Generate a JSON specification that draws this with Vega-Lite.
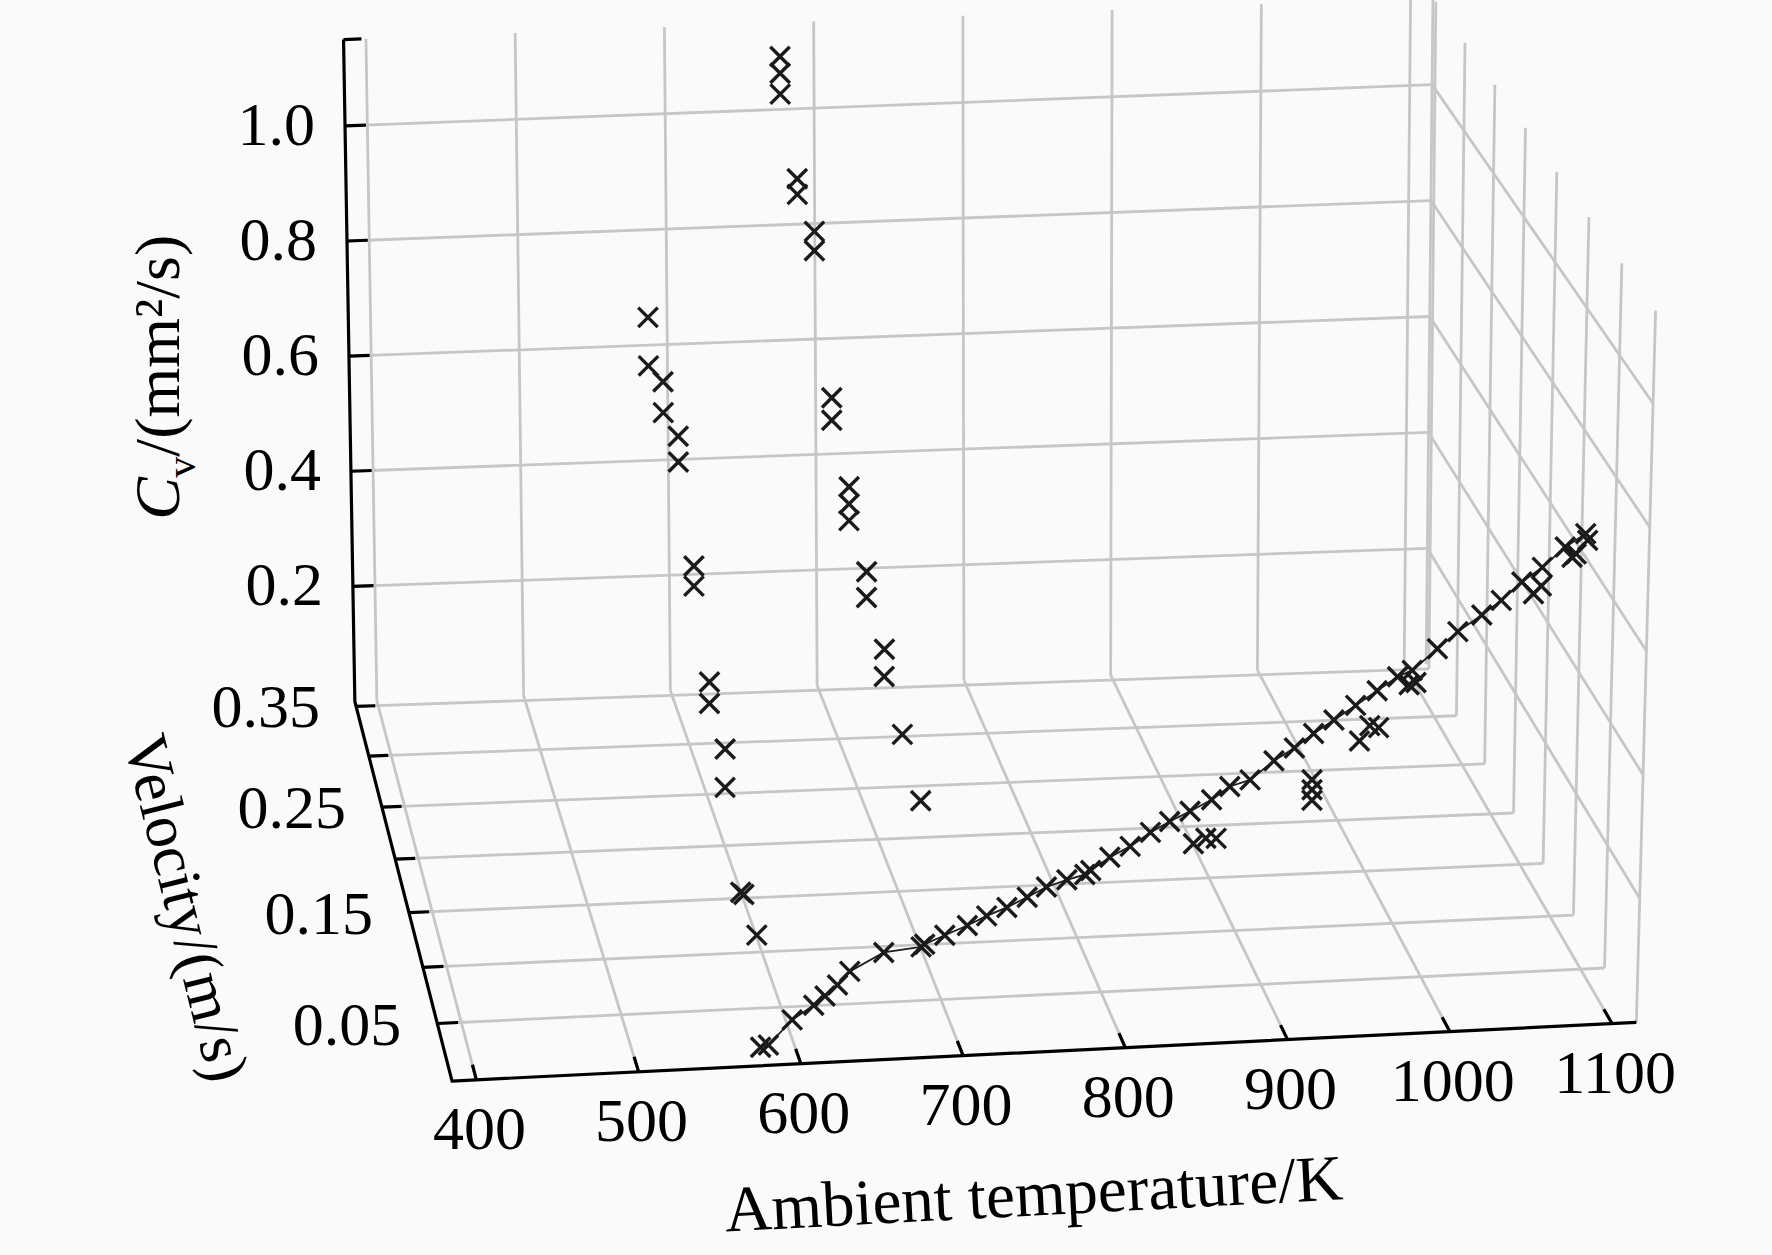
{
  "$schema": "https://vega.github.io/schema/vega-lite/v6.json",
  "width": 1772,
  "height": 1255,
  "autosize": "none",
  "padding": 0,
  "background": "#fafafa",
  "config": {"view": {"stroke": null}},
  "data": {
    "values": [
      {"k":"grid","g":"b400","o":0,"T":400,"v":0.355,"Cv":0},{"k":"grid","g":"b400","o":1,"T":400,"v":0.355,"Cv":1.15},
      {"k":"grid","g":"b500","o":0,"T":500,"v":0.355,"Cv":0},{"k":"grid","g":"b500","o":1,"T":500,"v":0.355,"Cv":1.15},
      {"k":"grid","g":"b600","o":0,"T":600,"v":0.355,"Cv":0},{"k":"grid","g":"b600","o":1,"T":600,"v":0.355,"Cv":1.15},
      {"k":"grid","g":"b700","o":0,"T":700,"v":0.355,"Cv":0},{"k":"grid","g":"b700","o":1,"T":700,"v":0.355,"Cv":1.15},
      {"k":"grid","g":"b800","o":0,"T":800,"v":0.355,"Cv":0},{"k":"grid","g":"b800","o":1,"T":800,"v":0.355,"Cv":1.15},
      {"k":"grid","g":"b900","o":0,"T":900,"v":0.355,"Cv":0},{"k":"grid","g":"b900","o":1,"T":900,"v":0.355,"Cv":1.15},
      {"k":"grid","g":"b1000","o":0,"T":1000,"v":0.355,"Cv":0},{"k":"grid","g":"b1000","o":1,"T":1000,"v":0.355,"Cv":1.15},
      {"k":"grid","g":"b1100","o":0,"T":1100,"v":0.355,"Cv":0},{"k":"grid","g":"b1100","o":1,"T":1100,"v":0.355,"Cv":1.15},
      {"k":"grid","g":"bh2","o":0,"T":385,"v":0.355,"Cv":0.2},{"k":"grid","g":"bh2","o":1,"T":1115,"v":0.355,"Cv":0.2},
      {"k":"grid","g":"bh4","o":0,"T":385,"v":0.355,"Cv":0.4},{"k":"grid","g":"bh4","o":1,"T":1115,"v":0.355,"Cv":0.4},
      {"k":"grid","g":"bh6","o":0,"T":385,"v":0.355,"Cv":0.6},{"k":"grid","g":"bh6","o":1,"T":1115,"v":0.355,"Cv":0.6},
      {"k":"grid","g":"bh8","o":0,"T":385,"v":0.355,"Cv":0.8},{"k":"grid","g":"bh8","o":1,"T":1115,"v":0.355,"Cv":0.8},
      {"k":"grid","g":"bh10","o":0,"T":385,"v":0.355,"Cv":1.0},{"k":"grid","g":"bh10","o":1,"T":1115,"v":0.355,"Cv":1.0},
      {"k":"grid","g":"f400","o":0,"T":400,"v":0,"Cv":0},{"k":"grid","g":"f400","o":1,"T":400,"v":0.355,"Cv":0},
      {"k":"grid","g":"f500","o":0,"T":500,"v":0,"Cv":0},{"k":"grid","g":"f500","o":1,"T":500,"v":0.355,"Cv":0},
      {"k":"grid","g":"f600","o":0,"T":600,"v":0,"Cv":0},{"k":"grid","g":"f600","o":1,"T":600,"v":0.355,"Cv":0},
      {"k":"grid","g":"f700","o":0,"T":700,"v":0,"Cv":0},{"k":"grid","g":"f700","o":1,"T":700,"v":0.355,"Cv":0},
      {"k":"grid","g":"f800","o":0,"T":800,"v":0,"Cv":0},{"k":"grid","g":"f800","o":1,"T":800,"v":0.355,"Cv":0},
      {"k":"grid","g":"f900","o":0,"T":900,"v":0,"Cv":0},{"k":"grid","g":"f900","o":1,"T":900,"v":0.355,"Cv":0},
      {"k":"grid","g":"f1000","o":0,"T":1000,"v":0,"Cv":0},{"k":"grid","g":"f1000","o":1,"T":1000,"v":0.355,"Cv":0},
      {"k":"grid","g":"f1100","o":0,"T":1100,"v":0,"Cv":0},{"k":"grid","g":"f1100","o":1,"T":1100,"v":0.355,"Cv":0},
      {"k":"grid","g":"fv05","o":0,"T":385,"v":0.05,"Cv":0},{"k":"grid","g":"fv05","o":1,"T":1115,"v":0.05,"Cv":0},
      {"k":"grid","g":"fv10","o":0,"T":385,"v":0.10,"Cv":0},{"k":"grid","g":"fv10","o":1,"T":1115,"v":0.10,"Cv":0},
      {"k":"grid","g":"fv15","o":0,"T":385,"v":0.15,"Cv":0},{"k":"grid","g":"fv15","o":1,"T":1115,"v":0.15,"Cv":0},
      {"k":"grid","g":"fv20","o":0,"T":385,"v":0.20,"Cv":0},{"k":"grid","g":"fv20","o":1,"T":1115,"v":0.20,"Cv":0},
      {"k":"grid","g":"fv25","o":0,"T":385,"v":0.25,"Cv":0},{"k":"grid","g":"fv25","o":1,"T":1115,"v":0.25,"Cv":0},
      {"k":"grid","g":"fv30","o":0,"T":385,"v":0.30,"Cv":0},{"k":"grid","g":"fv30","o":1,"T":1115,"v":0.30,"Cv":0},
      {"k":"grid","g":"fv35","o":0,"T":385,"v":0.35,"Cv":0},{"k":"grid","g":"fv35","o":1,"T":1115,"v":0.35,"Cv":0},
      {"k":"grid","g":"rv00","o":0,"T":1115,"v":0,"Cv":0},{"k":"grid","g":"rv00","o":1,"T":1115,"v":0,"Cv":1.15},
      {"k":"grid","g":"rv05","o":0,"T":1115,"v":0.05,"Cv":0},{"k":"grid","g":"rv05","o":1,"T":1115,"v":0.05,"Cv":1.15},
      {"k":"grid","g":"rv10","o":0,"T":1115,"v":0.10,"Cv":0},{"k":"grid","g":"rv10","o":1,"T":1115,"v":0.10,"Cv":1.15},
      {"k":"grid","g":"rv15","o":0,"T":1115,"v":0.15,"Cv":0},{"k":"grid","g":"rv15","o":1,"T":1115,"v":0.15,"Cv":1.15},
      {"k":"grid","g":"rv20","o":0,"T":1115,"v":0.20,"Cv":0},{"k":"grid","g":"rv20","o":1,"T":1115,"v":0.20,"Cv":1.15},
      {"k":"grid","g":"rv25","o":0,"T":1115,"v":0.25,"Cv":0},{"k":"grid","g":"rv25","o":1,"T":1115,"v":0.25,"Cv":1.15},
      {"k":"grid","g":"rv30","o":0,"T":1115,"v":0.30,"Cv":0},{"k":"grid","g":"rv30","o":1,"T":1115,"v":0.30,"Cv":1.15},
      {"k":"grid","g":"rv35","o":0,"T":1115,"v":0.35,"Cv":0},{"k":"grid","g":"rv35","o":1,"T":1115,"v":0.35,"Cv":1.15},
      {"k":"grid","g":"rvb","o":0,"T":1115,"v":0.355,"Cv":0},{"k":"grid","g":"rvb","o":1,"T":1115,"v":0.355,"Cv":1.15},
      {"k":"grid","g":"rc2","o":0,"T":1115,"v":0,"Cv":0.2},{"k":"grid","g":"rc2","o":1,"T":1115,"v":0.355,"Cv":0.2},
      {"k":"grid","g":"rc4","o":0,"T":1115,"v":0,"Cv":0.4},{"k":"grid","g":"rc4","o":1,"T":1115,"v":0.355,"Cv":0.4},
      {"k":"grid","g":"rc6","o":0,"T":1115,"v":0,"Cv":0.6},{"k":"grid","g":"rc6","o":1,"T":1115,"v":0.355,"Cv":0.6},
      {"k":"grid","g":"rc8","o":0,"T":1115,"v":0,"Cv":0.8},{"k":"grid","g":"rc8","o":1,"T":1115,"v":0.355,"Cv":0.8},
      {"k":"grid","g":"rc10","o":0,"T":1115,"v":0,"Cv":1.0},{"k":"grid","g":"rc10","o":1,"T":1115,"v":0.355,"Cv":1.0},

      {"k":"axis","g":"ax","o":0,"T":385,"v":0.355,"Cv":1.15},
      {"k":"axis","g":"ax","o":1,"T":385,"v":0.355,"Cv":0},
      {"k":"axis","g":"ax","o":2,"T":385,"v":0,"Cv":0},
      {"k":"axis","g":"ax","o":3,"T":1115,"v":0,"Cv":0},

      {"k":"tick","g":"t400","o":0,"T":400,"v":0,"Cv":0},{"k":"tick","g":"t400","o":1,"T":400,"v":0.013,"Cv":0},
      {"k":"tick","g":"t500","o":0,"T":500,"v":0,"Cv":0},{"k":"tick","g":"t500","o":1,"T":500,"v":0.013,"Cv":0},
      {"k":"tick","g":"t600","o":0,"T":600,"v":0,"Cv":0},{"k":"tick","g":"t600","o":1,"T":600,"v":0.013,"Cv":0},
      {"k":"tick","g":"t700","o":0,"T":700,"v":0,"Cv":0},{"k":"tick","g":"t700","o":1,"T":700,"v":0.013,"Cv":0},
      {"k":"tick","g":"t800","o":0,"T":800,"v":0,"Cv":0},{"k":"tick","g":"t800","o":1,"T":800,"v":0.013,"Cv":0},
      {"k":"tick","g":"t900","o":0,"T":900,"v":0,"Cv":0},{"k":"tick","g":"t900","o":1,"T":900,"v":0.013,"Cv":0},
      {"k":"tick","g":"t1000","o":0,"T":1000,"v":0,"Cv":0},{"k":"tick","g":"t1000","o":1,"T":1000,"v":0.013,"Cv":0},
      {"k":"tick","g":"t1100","o":0,"T":1100,"v":0,"Cv":0},{"k":"tick","g":"t1100","o":1,"T":1100,"v":0.013,"Cv":0},
      {"k":"tick","g":"tv05","o":0,"T":385,"v":0.05,"Cv":0},{"k":"tick","g":"tv05","o":1,"T":398,"v":0.05,"Cv":0},
      {"k":"tick","g":"tv10","o":0,"T":385,"v":0.10,"Cv":0},{"k":"tick","g":"tv10","o":1,"T":398,"v":0.10,"Cv":0},
      {"k":"tick","g":"tv15","o":0,"T":385,"v":0.15,"Cv":0},{"k":"tick","g":"tv15","o":1,"T":398,"v":0.15,"Cv":0},
      {"k":"tick","g":"tv20","o":0,"T":385,"v":0.20,"Cv":0},{"k":"tick","g":"tv20","o":1,"T":398,"v":0.20,"Cv":0},
      {"k":"tick","g":"tv25","o":0,"T":385,"v":0.25,"Cv":0},{"k":"tick","g":"tv25","o":1,"T":398,"v":0.25,"Cv":0},
      {"k":"tick","g":"tv30","o":0,"T":385,"v":0.30,"Cv":0},{"k":"tick","g":"tv30","o":1,"T":398,"v":0.30,"Cv":0},
      {"k":"tick","g":"tv35","o":0,"T":385,"v":0.35,"Cv":0},{"k":"tick","g":"tv35","o":1,"T":398,"v":0.35,"Cv":0},
      {"k":"tick","g":"tc2","o":0,"T":385,"v":0.355,"Cv":0.2},{"k":"tick","g":"tc2","o":1,"T":399,"v":0.355,"Cv":0.2},
      {"k":"tick","g":"tc4","o":0,"T":385,"v":0.355,"Cv":0.4},{"k":"tick","g":"tc4","o":1,"T":399,"v":0.355,"Cv":0.4},
      {"k":"tick","g":"tc6","o":0,"T":385,"v":0.355,"Cv":0.6},{"k":"tick","g":"tc6","o":1,"T":399,"v":0.355,"Cv":0.6},
      {"k":"tick","g":"tc8","o":0,"T":385,"v":0.355,"Cv":0.8},{"k":"tick","g":"tc8","o":1,"T":399,"v":0.355,"Cv":0.8},
      {"k":"tick","g":"tc10","o":0,"T":385,"v":0.355,"Cv":1.0},{"k":"tick","g":"tc10","o":1,"T":399,"v":0.355,"Cv":1.0},
      {"k":"tick","g":"tcap","o":0,"T":385,"v":0.355,"Cv":1.15},{"k":"tick","g":"tcap","o":1,"T":397,"v":0.355,"Cv":1.15},

      {"k":"colB","T":676,"v":0.35,"Cv":1.099},{"k":"colB","T":676,"v":0.35,"Cv":1.070},{"k":"colB","T":676,"v":0.35,"Cv":1.034},
      {"k":"colB","T":676,"v":0.308,"Cv":0.951},{"k":"colB","T":676,"v":0.308,"Cv":0.924},
      {"k":"colB","T":676,"v":0.266,"Cv":0.925},{"k":"colB","T":676,"v":0.266,"Cv":0.892},
      {"k":"colB","T":676,"v":0.224,"Cv":0.708},{"k":"colB","T":676,"v":0.224,"Cv":0.670},
      {"k":"colB","T":676,"v":0.182,"Cv":0.626},{"k":"colB","T":676,"v":0.182,"Cv":0.597},{"k":"colB","T":676,"v":0.182,"Cv":0.569},
      {"k":"colB","T":676,"v":0.14,"Cv":0.553},{"k":"colB","T":676,"v":0.14,"Cv":0.510},
      {"k":"colB","T":676,"v":0.098,"Cv":0.495},{"k":"colB","T":676,"v":0.098,"Cv":0.450},
      {"k":"colB","T":676,"v":0.056,"Cv":0.427},
      {"k":"colB","T":676,"v":0.014,"Cv":0.392},

      {"k":"colA","T":586,"v":0.35,"Cv":0.656},{"k":"colA","T":586,"v":0.35,"Cv":0.572},
      {"k":"colA","T":586,"v":0.308,"Cv":0.611},{"k":"colA","T":586,"v":0.308,"Cv":0.558},
      {"k":"colA","T":586,"v":0.266,"Cv":0.585},{"k":"colA","T":586,"v":0.266,"Cv":0.541},
      {"k":"colA","T":586,"v":0.224,"Cv":0.433},{"k":"colA","T":586,"v":0.224,"Cv":0.399},
      {"k":"colA","T":586,"v":0.182,"Cv":0.308},{"k":"colA","T":586,"v":0.182,"Cv":0.272},
      {"k":"colA","T":586,"v":0.14,"Cv":0.268},{"k":"colA","T":586,"v":0.14,"Cv":0.204},
      {"k":"colA","T":586,"v":0.098,"Cv":0.104},{"k":"colA","T":588,"v":0.098,"Cv":0.100},
      {"k":"colA","T":586,"v":0.056,"Cv":0.109},

      {"k":"curve","T":575.1,"v":0,"Cv":0.030},{"k":"curve","T":579.9,"v":0,"Cv":0.033},
      {"k":"curve","T":594.4,"v":0,"Cv":0.072},{"k":"curve","T":607.6,"v":0,"Cv":0.094},
      {"k":"curve","T":614.5,"v":0,"Cv":0.108},{"k":"curve","T":622.1,"v":0,"Cv":0.125},
      {"k":"curve","T":629.6,"v":0,"Cv":0.146},{"k":"curve","T":650.4,"v":0,"Cv":0.174},
      {"k":"curve","T":673.3,"v":0,"Cv":0.180},{"k":"curve","T":675.5,"v":0,"Cv":0.184},
      {"k":"curve","T":687.8,"v":0,"Cv":0.197},{"k":"curve","T":701.6,"v":0,"Cv":0.211},
      {"k":"curve","T":713.4,"v":0,"Cv":0.225},{"k":"curve","T":725.8,"v":0,"Cv":0.237},
      {"k":"curve","T":738.2,"v":0,"Cv":0.252},{"k":"curve","T":749.9,"v":0,"Cv":0.267},
      {"k":"curve","T":762.4,"v":0,"Cv":0.277},{"k":"curve","T":773.4,"v":0,"Cv":0.284},
      {"k":"curve","T":777.0,"v":0,"Cv":0.290},{"k":"curve","T":788.6,"v":0,"Cv":0.310},
      {"k":"curve","T":801.0,"v":0,"Cv":0.326},{"k":"curve","T":813.3,"v":0,"Cv":0.347},
      {"k":"curve","T":825.0,"v":0,"Cv":0.363},{"k":"curve","T":837.4,"v":0,"Cv":0.378},
      {"k":"curve","T":850.5,"v":0,"Cv":0.395},{"k":"curve","T":861.5,"v":0,"Cv":0.415},
      {"k":"curve","T":873.9,"v":0,"Cv":0.424},{"k":"curve","T":888.3,"v":0,"Cv":0.453},
      {"k":"curve","T":900.7,"v":0,"Cv":0.472},{"k":"curve","T":912.3,"v":0,"Cv":0.494},
      {"k":"curve","T":924.6,"v":0,"Cv":0.514},{"k":"curve","T":937.7,"v":0,"Cv":0.536},
      {"k":"curve","T":950.7,"v":0,"Cv":0.558},{"k":"curve","T":963.0,"v":0,"Cv":0.579},
      {"k":"curve","T":971.9,"v":0,"Cv":0.588},{"k":"curve","T":987.0,"v":0,"Cv":0.621},
      {"k":"curve","T":999.3,"v":0,"Cv":0.647},{"k":"curve","T":1013.7,"v":0,"Cv":0.672},
      {"k":"curve","T":1025.4,"v":0,"Cv":0.694},{"k":"curve","T":1037.7,"v":0,"Cv":0.722},
      {"k":"curve","T":1050.0,"v":0,"Cv":0.744},{"k":"curve","T":1063.7,"v":0,"Cv":0.775},
      {"k":"curve","T":1076.0,"v":0,"Cv":0.795},

      {"k":"clus","T":839.8,"v":0,"Cv":0.325},{"k":"clus","T":847.4,"v":0,"Cv":0.333},{"k":"clus","T":853.7,"v":0,"Cv":0.332},
      {"k":"clus","T":911.9,"v":0,"Cv":0.419},{"k":"clus","T":912.0,"v":0,"Cv":0.403},{"k":"clus","T":912.1,"v":0,"Cv":0.386},
      {"k":"clus","T":946.6,"v":0,"Cv":0.502},{"k":"clus","T":952.1,"v":0,"Cv":0.498},{"k":"clus","T":940.5,"v":0,"Cv":0.478},
      {"k":"clus","T":970.2,"v":0,"Cv":0.565},{"k":"clus","T":974.4,"v":0,"Cv":0.568},
      {"k":"clus","T":1045.0,"v":0,"Cv":0.702},{"k":"clus","T":1049.7,"v":0,"Cv":0.714},
      {"k":"clus","T":1070.5,"v":0,"Cv":0.763},{"k":"clus","T":1077.3,"v":0,"Cv":0.784},{"k":"clus","T":1068.0,"v":0,"Cv":0.758},

      {"k":"lt","T":400,"v":0,"Cv":0,"label":"400"},{"k":"lt","T":500,"v":0,"Cv":0,"label":"500"},
      {"k":"lt","T":600,"v":0,"Cv":0,"label":"600"},{"k":"lt","T":700,"v":0,"Cv":0,"label":"700"},
      {"k":"lt","T":800,"v":0,"Cv":0,"label":"800"},{"k":"lt","T":900,"v":0,"Cv":0,"label":"900"},
      {"k":"lt","T":1000,"v":0,"Cv":0,"label":"1000"},{"k":"lt","T":1100,"v":0,"Cv":0,"label":"1100"},
      {"k":"lv","T":385,"v":0.05,"Cv":0,"label":"0.05"},{"k":"lv","T":385,"v":0.15,"Cv":0,"label":"0.15"},
      {"k":"lv","T":385,"v":0.25,"Cv":0,"label":"0.25"},{"k":"lv","T":385,"v":0.35,"Cv":0,"label":"0.35"},
      {"k":"lc","T":385,"v":0.355,"Cv":0.2,"label":"0.2"},{"k":"lc","T":385,"v":0.355,"Cv":0.4,"label":"0.4"},
      {"k":"lc","T":385,"v":0.355,"Cv":0.6,"label":"0.6"},{"k":"lc","T":385,"v":0.355,"Cv":0.8,"label":"0.8"},
      {"k":"lc","T":385,"v":0.355,"Cv":1.0,"label":"1.0"},

      {"k":"tt","T":750,"v":0,"Cv":0,"label":"Ambient temperature/K"},
      {"k":"tv","T":385,"v":0.18,"Cv":0,"label":"Velocity/(m/s)"},
      {"k":"tc1","T":385,"v":0.355,"Cv":0.58,"label":"C"},
      {"k":"tc2","T":385,"v":0.355,"Cv":0.58,"label":"v"},
      {"k":"tc3","T":385,"v":0.355,"Cv":0.58,"label":"/(mm²/s)"}
    ]
  },
  "transform": [
    {"calculate": "(datum.T - 385) / 730", "as": "t"},
    {"calculate": "1.09 * (datum.v / 0.355) / (1 + 0.09 * datum.v / 0.355)", "as": "u"},
    {"calculate": "datum.Cv / 1.15", "as": "c"},
    {"calculate": "(1-datum.t)*(1-datum.u)*(1-datum.c)*400 + datum.t*(1-datum.u)*(1-datum.c)*1448 + (1-datum.t)*datum.u*(1-datum.c)*314 + datum.t*datum.u*(1-datum.c)*1262 + (1-datum.t)*(1-datum.u)*datum.c*401 + datum.t*(1-datum.u)*datum.c*1465 + (1-datum.t)*datum.u*datum.c*304 + datum.t*datum.u*datum.c*1268", "as": "px"},
    {"calculate": "(1-datum.t)*(1-datum.u)*(1-datum.c)*957 + datum.t*(1-datum.u)*(1-datum.c)*905 + (1-datum.t)*datum.u*(1-datum.c)*621 + datum.t*datum.u*(1-datum.c)*588 + (1-datum.t)*(1-datum.u)*datum.c*331 + datum.t*(1-datum.u)*datum.c*275 + (1-datum.t)*datum.u*datum.c*35 - datum.t*datum.u*datum.c*2", "as": "py"}
  ],
  "encoding": {
    "x": {"field": "px", "type": "quantitative", "scale": {"domain": [0, 1568], "range": [0, 1772], "nice": false, "zero": false}, "axis": null},
    "y": {"field": "py", "type": "quantitative", "scale": {"domain": [0, 1111], "range": [0, 1255], "nice": false, "zero": false}, "axis": null}
  },
  "layer": [
    {
      "transform": [{"filter": "datum.k == 'grid'"}],
      "mark": {"type": "line", "stroke": "#c6c6c6", "strokeWidth": 2.8},
      "encoding": {"detail": {"field": "g", "type": "nominal"}, "order": {"field": "o"}}
    },
    {
      "transform": [{"filter": "datum.k == 'axis' || datum.k == 'tick'"}],
      "mark": {"type": "line", "stroke": "#000000", "strokeWidth": 3.2, "strokeJoin": "round"},
      "encoding": {"detail": {"field": "g", "type": "nominal"}, "order": {"field": "o"}}
    },
    {
      "transform": [{"filter": "datum.k == 'curve'"}],
      "mark": {"type": "line", "stroke": "#1e1e1e", "strokeWidth": 1.8},
      "encoding": {"order": {"field": "T"}}
    },
    {
      "transform": [{"filter": "datum.k == 'curve' || datum.k == 'colA' || datum.k == 'colB' || datum.k == 'clus'"}],
      "mark": {"type": "point", "shape": "M-1,-1L1,1M-1,1L1,-1", "size": 380, "filled": false, "stroke": "#1a1a1a", "strokeWidth": 3.4, "opacity": 1}
    },
    {
      "transform": [{"filter": "datum.k == 'lt'"}],
      "mark": {"type": "text", "font": "Liberation Serif", "fontSize": 62, "align": "center", "baseline": "middle", "dx": 3, "dy": 50, "color": "#000000"},
      "encoding": {"text": {"field": "label"}}
    },
    {
      "transform": [{"filter": "datum.k == 'lv'"}],
      "mark": {"type": "text", "font": "Liberation Serif", "fontSize": 62, "align": "right", "baseline": "middle", "dx": -36, "dy": 2, "color": "#000000"},
      "encoding": {"text": {"field": "label"}}
    },
    {
      "transform": [{"filter": "datum.k == 'lc'"}],
      "mark": {"type": "text", "font": "Liberation Serif", "fontSize": 62, "align": "right", "baseline": "middle", "dx": -30, "dy": 0, "color": "#000000"},
      "encoding": {"text": {"field": "label"}}
    },
    {
      "transform": [{"filter": "datum.k == 'tt'"}],
      "mark": {"type": "text", "font": "Liberation Serif", "fontSize": 65, "align": "center", "baseline": "middle", "angle": -3, "dx": -18, "dy": 143, "color": "#000000"},
      "encoding": {"text": {"field": "label"}}
    },
    {
      "transform": [{"filter": "datum.k == 'tv'"}],
      "mark": {"type": "text", "font": "Liberation Serif", "fontSize": 62, "align": "center", "baseline": "middle", "angle": 76, "dx": -25, "dy": 216, "color": "#000000"},
      "encoding": {"text": {"field": "label"}}
    },
    {
      "transform": [{"filter": "datum.k == 'tc1'"}],
      "mark": {"type": "text", "font": "Liberation Serif", "fontSize": 64, "fontStyle": "italic", "align": "left", "baseline": "middle", "angle": -90, "dx": -152, "dy": -189, "color": "#000000"},
      "encoding": {"text": {"field": "label"}}
    },
    {
      "transform": [{"filter": "datum.k == 'tc2'"}],
      "mark": {"type": "text", "font": "Liberation Serif", "fontSize": 42, "align": "left", "baseline": "middle", "angle": -90, "dx": -110, "dy": -167, "color": "#000000"},
      "encoding": {"text": {"field": "label"}}
    },
    {
      "transform": [{"filter": "datum.k == 'tc3'"}],
      "mark": {"type": "text", "font": "Liberation Serif", "fontSize": 64, "align": "left", "baseline": "middle", "angle": -90, "dx": -89, "dy": -189, "color": "#000000"},
      "encoding": {"text": {"field": "label"}}
    }
  ]
}
